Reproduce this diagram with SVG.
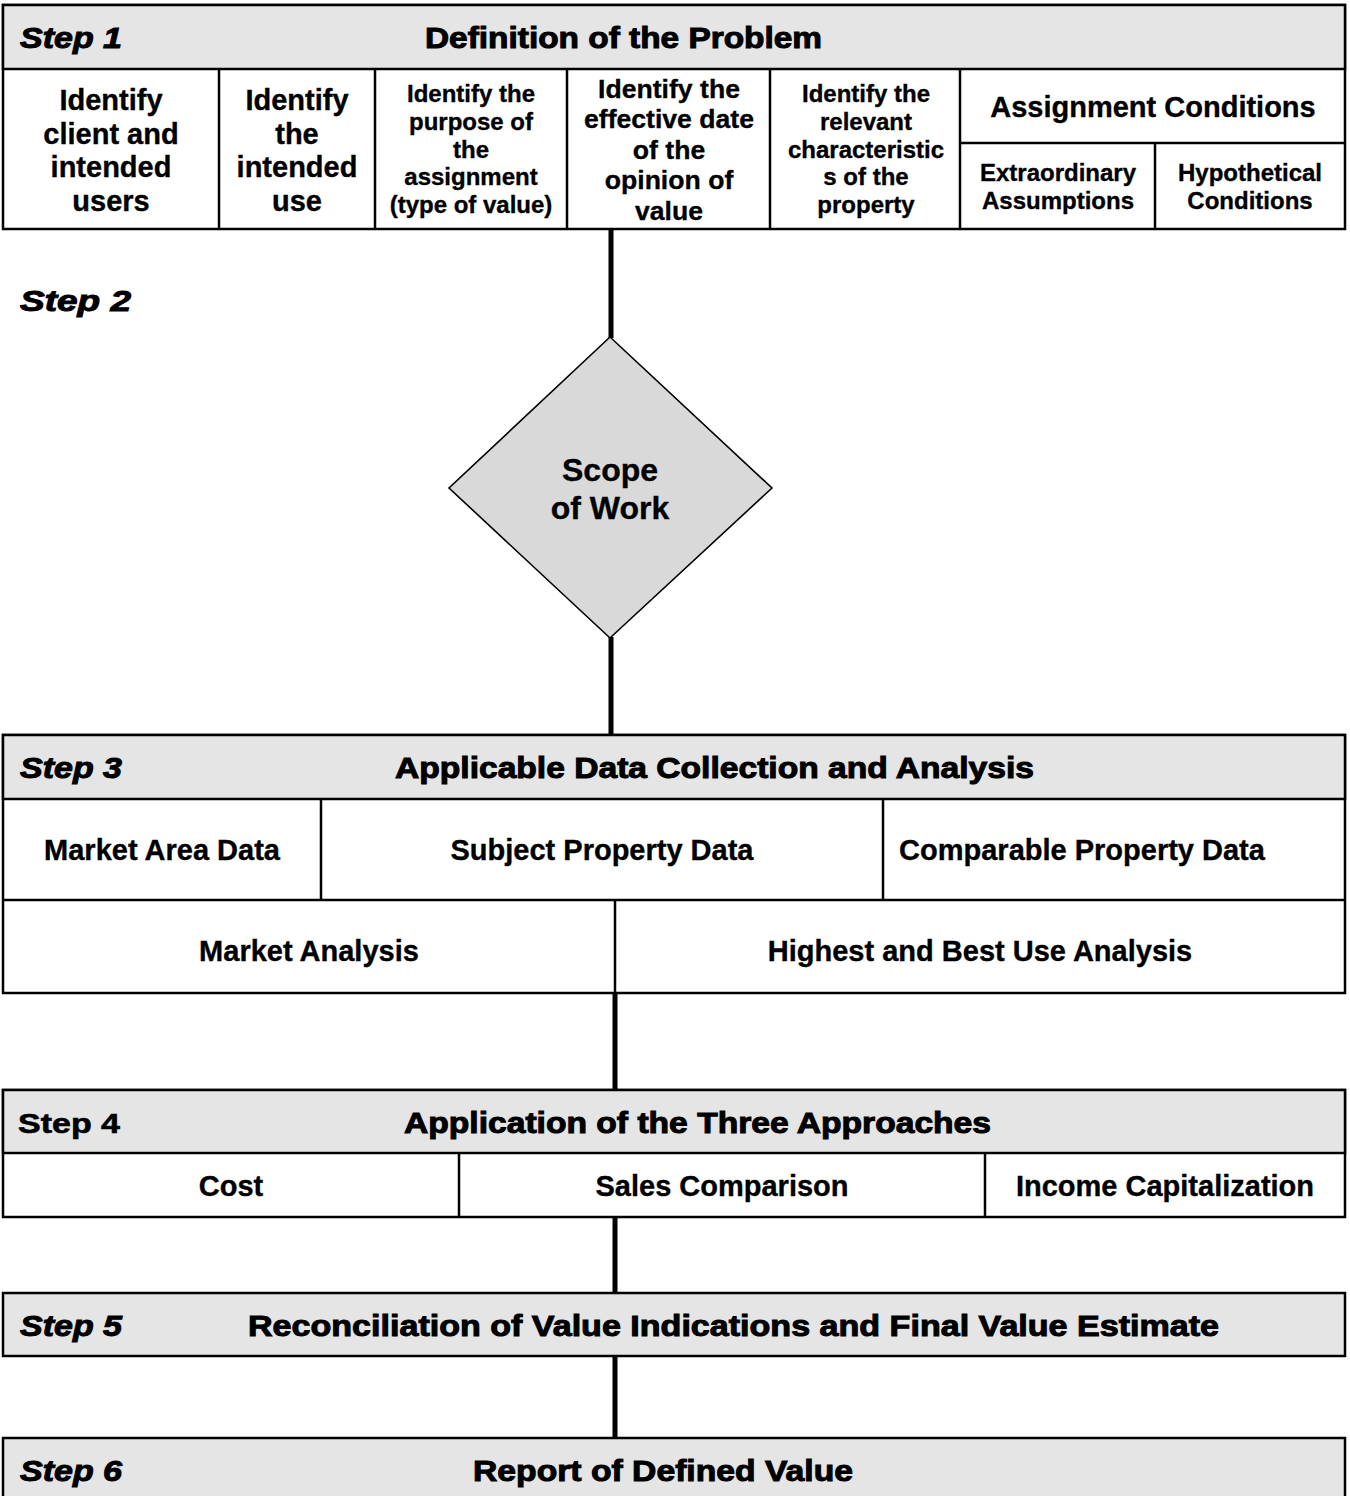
<svg xmlns="http://www.w3.org/2000/svg" width="1350" height="1496" viewBox="0 0 1350 1496">
<style>
.hdr{fill:#e5e5e5;stroke:#000;stroke-width:2.5}
.cell{fill:#fff;stroke:#000;stroke-width:2.5}
.div{stroke:#000;stroke-width:2.5;fill:none}
.conn{stroke:#000;stroke-width:5;fill:none}
.h{font-family:"Liberation Sans",Arial,sans-serif;font-weight:bold;font-size:29.5px;fill:#000;stroke:#000;stroke-width:1}
.st{font-family:"Liberation Sans",Arial,sans-serif;font-weight:bold;font-style:italic;font-size:29.5px;fill:#000;stroke:#000;stroke-width:1}
.st4{font-family:"Liberation Sans",Arial,sans-serif;font-weight:bold;font-size:28px;fill:#000;stroke:#000;stroke-width:0.6}
.t29,.t27,.t24,.t32{font-family:"Liberation Sans",Arial,sans-serif;font-weight:bold;fill:#000;stroke:#000;stroke-width:0.35;text-anchor:middle}
.t29{font-size:29px}
.t27{font-size:26.6px}
.t24{font-size:24px}
.t32{font-size:32px}
</style>
<rect width="1350" height="1496" fill="#fff"/>

<g id="connectors">
<line class="conn" x1="611" y1="229" x2="611" y2="338"/>
<line class="conn" x1="611" y1="637" x2="611" y2="736"/>
<line class="conn" x1="615" y1="993" x2="615" y2="1091"/>
<line class="conn" x1="615" y1="1217" x2="615" y2="1294"/>
<line class="conn" x1="615" y1="1356" x2="615" y2="1439"/>
</g>

<g id="step1">
<rect class="cell" x="3" y="5" width="1342" height="224"/>
<rect class="hdr" x="3" y="5" width="1342" height="64"/>
<text class="st" x="20" y="48" textLength="102" lengthAdjust="spacingAndGlyphs">Step 1</text>
<text class="h" x="425" y="48" textLength="397" lengthAdjust="spacingAndGlyphs">Definition of the Problem</text>
<line class="div" x1="219" y1="69" x2="219" y2="229"/>
<line class="div" x1="375" y1="69" x2="375" y2="229"/>
<line class="div" x1="567" y1="69" x2="567" y2="229"/>
<line class="div" x1="770" y1="69" x2="770" y2="229"/>
<line class="div" x1="960" y1="69" x2="960" y2="229"/>
<line class="div" x1="960" y1="143" x2="1345" y2="143"/>
<line class="div" x1="1155" y1="143" x2="1155" y2="229"/>
</g>

<g id="s1-client">
<text class="t29" x="111" y="110">Identify</text>
<text class="t29" x="111" y="143.7">client and</text>
<text class="t29" x="111" y="177.4">intended</text>
<text class="t29" x="111" y="211">users</text>
</g>
<g id="s1-use">
<text class="t29" x="297" y="110">Identify</text>
<text class="t29" x="297" y="143.7">the</text>
<text class="t29" x="297" y="177.4">intended</text>
<text class="t29" x="297" y="211">use</text>
</g>
<g id="s1-purpose">
<text class="t24" x="471" y="102">Identify the</text>
<text class="t24" x="471" y="130">purpose of</text>
<text class="t24" x="471" y="157.5">the</text>
<text class="t24" x="471" y="185">assignment</text>
<text class="t24" x="471" y="213">(type of value)</text>
</g>
<g id="s1-date">
<text class="t27" x="669" y="97.7">Identify the</text>
<text class="t27" x="669" y="128.2">effective date</text>
<text class="t27" x="669" y="158.7">of the</text>
<text class="t27" x="669" y="189.2">opinion of</text>
<text class="t27" x="669" y="219.7">value</text>
</g>
<g id="s1-char">
<text class="t24" x="866" y="102">Identify the</text>
<text class="t24" x="866" y="130">relevant</text>
<text class="t24" x="866" y="157.5">characteristic</text>
<text class="t24" x="866" y="185">s of the</text>
<text class="t24" x="866" y="213">property</text>
</g>
<g id="s1-conditions">
<text class="t29" x="1153" y="116.5">Assignment Conditions</text>
</g>
<g id="s1-extra">
<text class="t24" x="1058" y="180.6">Extraordinary</text>
<text class="t24" x="1058" y="208.6">Assumptions</text>
</g>
<g id="s1-hypo">
<text class="t24" x="1250" y="180.6">Hypothetical</text>
<text class="t24" x="1250" y="208.6">Conditions</text>
</g>

<g id="step2">
<text class="st" x="20" y="311" font-size="31" textLength="111" lengthAdjust="spacingAndGlyphs">Step 2</text>
</g>
<g id="scope">
<polygon points="610,337 772,488 610,638 449,488" fill="#d9d9d9" stroke="#000" stroke-width="1.6"/>
<text class="t32" x="610" y="481">Scope</text>
<text class="t32" x="610" y="519">of Work</text>
</g>

<g id="step3">
<rect class="cell" x="3" y="735" width="1342" height="258"/>
<rect class="hdr" x="3" y="735" width="1342" height="64"/>
<text class="st" x="20" y="778" textLength="102" lengthAdjust="spacingAndGlyphs">Step 3</text>
<text class="h" x="395" y="778" textLength="639" lengthAdjust="spacingAndGlyphs">Applicable Data Collection and Analysis</text>
<line class="div" x1="3" y1="900" x2="1345" y2="900"/>
<line class="div" x1="321" y1="799" x2="321" y2="900"/>
<line class="div" x1="883" y1="799" x2="883" y2="900"/>
<line class="div" x1="615" y1="900" x2="615" y2="993"/>
</g>
<g id="s3-market-area"><text class="t29" x="162" y="860">Market Area Data</text></g>
<g id="s3-subject"><text class="t29" x="602" y="860">Subject Property Data</text></g>
<g id="s3-comparable"><text class="t29" x="1082" y="860">Comparable Property Data</text></g>
<g id="s3-market-analysis"><text class="t29" x="309" y="961">Market Analysis</text></g>
<g id="s3-hbu"><text class="t29" x="980" y="961">Highest and Best Use Analysis</text></g>

<g id="step4">
<rect class="cell" x="3" y="1090" width="1342" height="127"/>
<rect class="hdr" x="3" y="1090" width="1342" height="63"/>
<text class="st4" x="18" y="1133" textLength="102" lengthAdjust="spacingAndGlyphs">Step 4</text>
<text class="h" x="404" y="1133" textLength="587" lengthAdjust="spacingAndGlyphs">Application of the Three Approaches</text>
<line class="div" x1="459" y1="1153" x2="459" y2="1217"/>
<line class="div" x1="985" y1="1153" x2="985" y2="1217"/>
</g>
<g id="s4-cost"><text class="t29" x="231" y="1196">Cost</text></g>
<g id="s4-sales"><text class="t29" x="722" y="1196">Sales Comparison</text></g>
<g id="s4-income"><text class="t29" x="1165" y="1196">Income Capitalization</text></g>

<g id="step5">
<rect class="hdr" x="3" y="1293" width="1342" height="63"/>
<text class="st" x="20" y="1336" textLength="102" lengthAdjust="spacingAndGlyphs">Step 5</text>
<text class="h" x="248" y="1336" textLength="971" lengthAdjust="spacingAndGlyphs">Reconciliation of Value Indications and Final Value Estimate</text>
</g>

<g id="step6">
<rect class="hdr" x="3" y="1438" width="1342" height="70"/>
<text class="st" x="20" y="1481" textLength="102" lengthAdjust="spacingAndGlyphs">Step 6</text>
<text class="h" x="473" y="1481" textLength="380" lengthAdjust="spacingAndGlyphs">Report of Defined Value</text>
</g>
</svg>
